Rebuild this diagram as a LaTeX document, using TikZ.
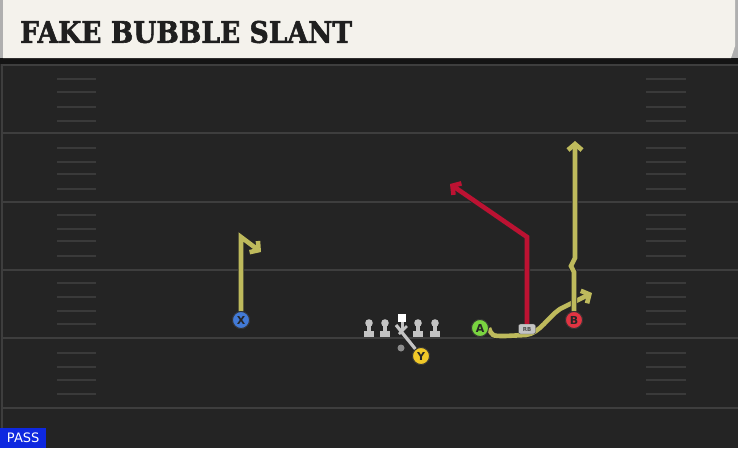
\documentclass[tikz,border=0pt]{standalone}
\usepackage{fontspec}
\usepackage{graphicx}
\setsansfont{DejaVu Sans}
\newfontfamily\titlefont[FakeBold=2]{DejaVu Serif Bold}
\usetikzlibrary{arrows.meta}
\definecolor{fieldbg}{RGB}{36,36,36}
\definecolor{bandbg}{RGB}{20,20,20}
\definecolor{yardline}{RGB}{62,62,62}
\definecolor{hashc}{RGB}{58,58,58}
\definecolor{titlebg}{RGB}{244,242,236}
\definecolor{titleedge}{RGB}{175,175,175}
\definecolor{routeY}{RGB}{190,186,92}
\definecolor{routeR}{RGB}{188,18,50}
\definecolor{pX}{RGB}{66,122,214}
\definecolor{pY}{RGB}{240,200,40}
\definecolor{pA}{RGB}{122,212,64}
\definecolor{pB}{RGB}{226,52,66}
\definecolor{olgray}{RGB}{196,196,196}
\definecolor{passblue}{RGB}{14,40,224}
\begin{document}
\begin{tikzpicture}[x=1pt,y=-1pt,
  yroute/.style={draw=routeY, line width=4.6pt, line join=miter,
    preaction={draw=black!85, line width=6.4pt}},
  rroute/.style={draw=routeR, line width=4.6pt, line join=miter,
    preaction={draw=black!85, line width=6.4pt}},
  tip/.style={-{Straight Barb[length=6pt,width=14pt]}},
  player/.style={circle, draw=black!80, line width=0.9pt, minimum size=17pt, inner sep=0pt,
    font=\sffamily\bfseries\fontsize{11}{11}\selectfont, text=black!85},
  yard/.style={draw=yardline, line width=2pt},
  hashm/.style={draw=hashc, line width=1.5pt},
  lineman/.style={fill=olgray}
]
\useasboundingbox (0,0) rectangle (738,448);
% field
\fill[fieldbg] (0,0) rectangle (738,448);
\fill[bandbg] (0,56) rectangle (738,64);
% title bar
\fill[titleedge] (0,0) rectangle (738,58);
\fill[titlebg] (3,0) -- (735,0) -- (735,46) -- (731,58) -- (3,58) -- cycle;
\node[anchor=west, inner sep=0pt, text=black!88] (title) at (20,32)
  {\resizebox{332pt}{22pt}{\titlefont FAKE BUBBLE SLANT}};
% left border
\draw[draw=yardline, line width=1.5pt] (2,64) -- (2,448);
% yard lines
\foreach \yy in {65,133,202,270,338,408}{
  \draw[yard] (3,\yy) -- (738,\yy);
}
% hash marks
\foreach \yy in {79,92,107,121,148,162,174,189,215,229,241,256,283,297,311,324,353,367,380,394}{
  \draw[hashm] (57,\yy) -- (96,\yy);
  \draw[hashm] (646,\yy) -- (686,\yy);
}
% offensive line
\foreach \xx in {369,385,418,435}{
  \fill[lineman] (\xx,323) circle (3.8);
  \fill[lineman] (\xx-1.7,323) rectangle (\xx+1.7,334);
  \fill[lineman] (\xx-5,331) rectangle (\xx+5,336.5);
}
% players
\node[player, fill=pY] (Y) at (421,356) {Y};
\node[player, fill=pA] (A) at (480,328) {A};
\node[fill=white, minimum size=8pt, inner sep=0pt] (C) at (402,318) {};
\node[circle, fill=black!45, minimum size=7pt, inner sep=0pt] (QB) at (401,348) {};
% center stem and block line
\draw[olgray, line width=3pt] (C.south) -- (402,330);
\draw[olgray, line width=3.2pt] (396,325) -- (Y);
\draw[olgray, line width=2.6pt] (407,326) -- (399,334);
\node[player, fill=pY] at (Y) {Y};
% route end coordinates
\coordinate (Xend) at (261,252);
\coordinate (Aend) at (592,293);
\coordinate (Bend) at (575,141);
\coordinate (Rend) at (450,184);
\node[player, fill=pX] (X) at (241,320) {X};
\node[player, fill=pB] (B) at (574,320) {B};
% routes
\draw[yroute,tip] (X.north) -- (241,237) -- (Xend);
\draw[yroute,tip] (A.east) .. controls (492,336) .. (505,336) -- (526,335)
  .. controls (540,333) and (548,317) .. (560,309) -- (Aend);
\draw[yroute,tip] (B.north) -- (574,272) -- (571,266) -- (575,258) -- (Bend);
% RB
\node[draw=black!70, fill=olgray, rounded corners=2pt, minimum width=17pt, minimum height=10pt,
  inner sep=0pt, font=\sffamily\bfseries\fontsize{5.5}{5.5}\selectfont, text=black!70] (RB) at (527,329) {RB};
\draw[rroute,tip] (RB.north) -- (527,237) -- (Rend);
% redraw players over routes
\node[player, fill=pX] at (X) {X};
\node[player, fill=pB] at (B) {B};
\node[player, fill=pA] at (A) {A};
% PASS label
\node[fill=passblue, anchor=south west, minimum width=46pt, minimum height=20pt, inner sep=0pt,
  text=white, font=\sffamily\fontsize{13}{13}\selectfont] (pass) at (0,448) {PASS};
\end{tikzpicture}
\end{document}
